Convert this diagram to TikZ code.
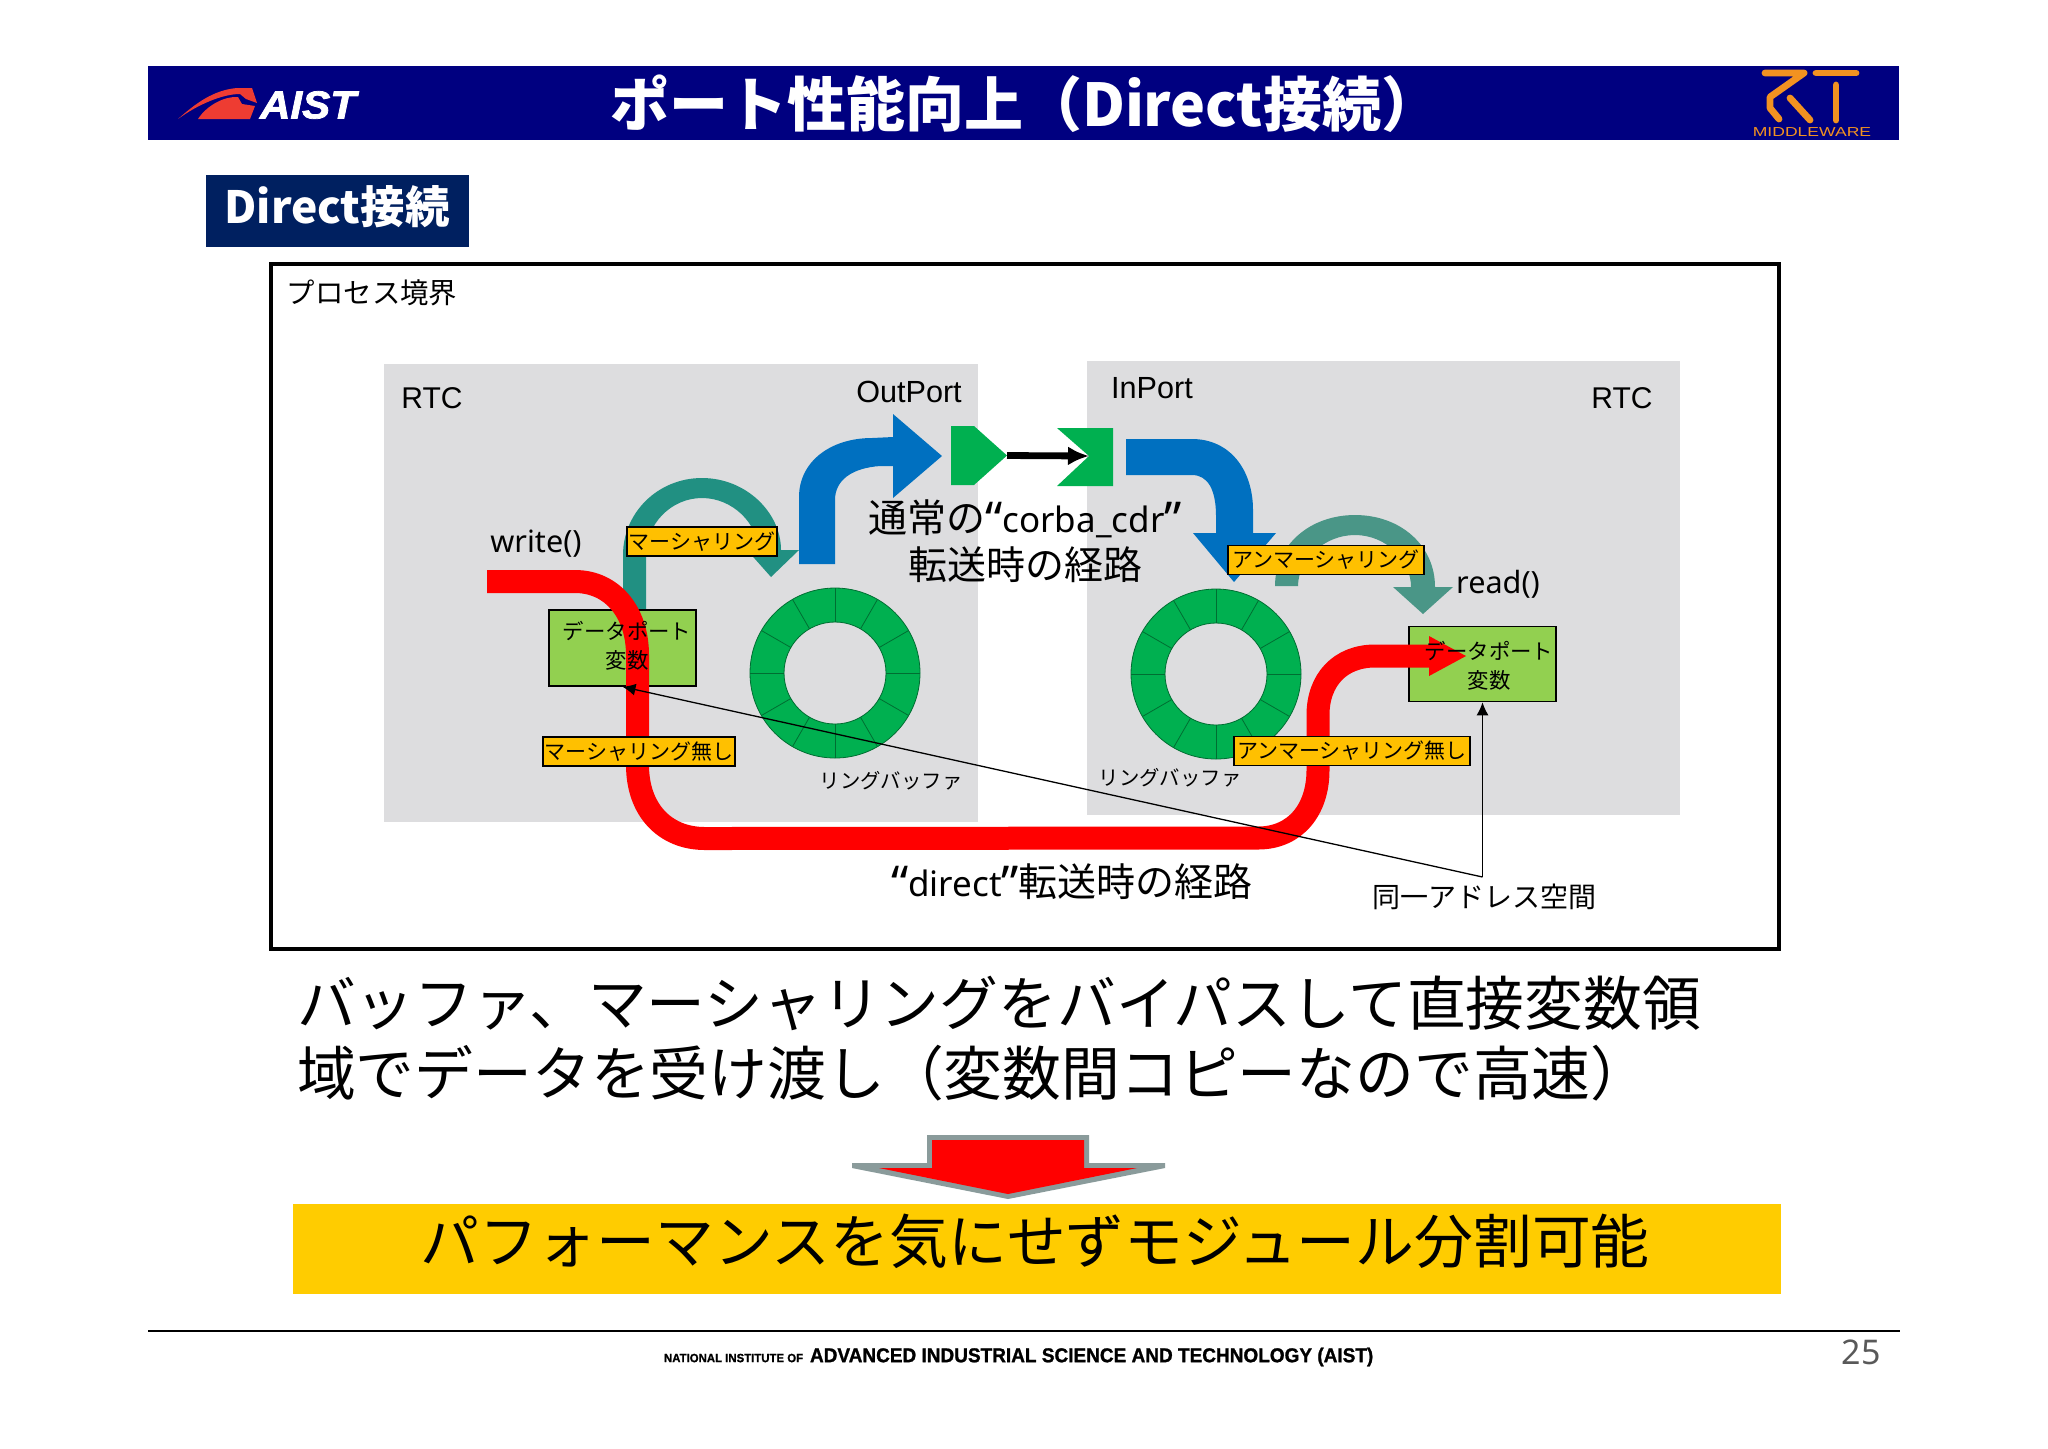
\documentclass[tikz,border=0pt]{standalone}
\usepackage{fontspec}
\usetikzlibrary{arrows.meta}
\setmainfont{Liberation Sans}
\newfontfamily\jp{Noto Sans CJK JP}
\newfontfamily\lat{Noto Sans}
\newfontfamily\footfont[FakeStretch=0.95,FakeBold=1.2]{Liberation Sans}
\newfontfamily\mwfont[FakeStretch=1.35]{Liberation Sans}
\newfontfamily\aistfont[FakeStretch=1.08,FakeBold=2]{Liberation Sans}
\newcommand\fs[1]{\fontsize{#1}{#1}\selectfont}
\newcommand\bigq[1]{\raisebox{-2pt}[0pt][0pt]{\lat\fs{24}#1}}
\definecolor{navybar}{RGB}{0,0,128}
\definecolor{subbar}{RGB}{0,32,96}
\definecolor{graybox}{RGB}{221,221,223}
\definecolor{pgreen}{RGB}{0,176,80}
\definecolor{lgreen}{RGB}{146,208,80}
\definecolor{orangelab}{RGB}{255,192,0}
\definecolor{bluearrow}{RGB}{0,112,192}
\definecolor{tealA}{RGB}{33,144,130}
\definecolor{tealB}{RGB}{74,150,135}
\definecolor{goldbar}{RGB}{255,204,0}
\definecolor{logoorange}{RGB}{242,146,33}
\definecolor{logored}{RGB}{238,60,50}
\definecolor{arrowgray}{RGB}{138,155,155}
\definecolor{ringedge}{RGB}{0,110,50}
\tikzset{
  txt/.style={inner sep=0pt,outer sep=0pt,anchor=center,text=black},
  lab/.style={draw=black,line width=0.75pt,fill=orangelab,inner sep=0pt,minimum height=14.5pt,anchor=center,font=\jp\fs{10.5}},
  varbox/.style={draw=black,line width=0.75pt,fill=lgreen,inner sep=0pt,anchor=center},
  vartext/.style={txt,align=center,font=\jp\fontsize{10.7}{14.7}\selectfont},
  thinarrow/.style={draw=black,line width=0.65pt,-{Latex[length=6.5pt,width=6pt]}},
  rtstroke/.style={draw=logoorange,line width=3.4pt,line cap=round,line join=round},
}
\begin{document}
\begin{tikzpicture}[x=0.5pt,y=-0.5pt]
\useasboundingbox (0,0) rectangle (2048,1448);
% header
\fill[navybar] (148,66) rectangle (1899,140);
\node[txt,text=white] (title) at (1025,104) {\jp\bfseries\fs{29.5}ポート性能向上（Direct接続）};
% AIST logo
\fill[logored] (178,119) .. controls (195,104) and (213,90) .. (237,88) -- (252,88) -- (257,103) -- (246,99) -- (240,94) .. controls (222,94) and (197,105) .. (178,119) -- cycle;
\fill[logored] (198,119) .. controls (207,105) and (225,96) .. (238,97) -- (242,104) -- (255,106) -- (250,119) -- cycle;
\node[txt,text=white] (aist) at (308,105) {\aistfont\bfseries\itshape\fs{19.5}AIST};
% RT logo
\draw[rtstroke] (1765,73) -- (1804,73) -- (1770,97) -- (1770,108) -- (1779,119);
\draw[rtstroke] (1790,98) -- (1810,120);
\draw[rtstroke] (1816,73) -- (1856,73);
\draw[rtstroke] (1836,85) -- (1836,120);
\node[txt,text=logoorange] (mw) at (1812,132) {\mwfont\fs{6.5}MIDDLEWARE};
% section label
\node[fill=subbar,minimum width=131.5pt,minimum height=36pt,inner sep=0pt,anchor=center,text=white] (sec) at (337.5,211) {};
\node[txt,text=white] (sect) at (337,207) {\jp\bfseries\fs{22.2}Direct接続};
% frame
\draw[black,line width=2pt] (271,264) rectangle (1779,949);
\node[txt] (proc) at (372,293) {\jp\fs{14.2}プロセス境界};
% gray RTC blocks
\fill[graybox] (384,364) rectangle (978,822);
\fill[graybox] (1087,361) rectangle (1680,815);
\node[txt] (rtcl) at (432,398) {\fs{15}RTC};
\node[txt] (outp) at (909,392) {\fs{15.3}OutPort};
\node[txt] (inp) at (1152,388) {\fs{15.3}InPort};
\node[txt] (rtcr) at (1622,398) {\fs{15}RTC};
% teal arrows
\fill[tealA] (623,612) -- (623,555) .. controls (623,512.5) and (658,478) .. (702,478) .. controls (746,478) and (781,512.5) .. (781,550) -- (799,550) -- (771,577) -- (747,550) -- (758,550) .. controls (758,524) and (733,498) .. (702,498) .. controls (671,498) and (646,524) .. (646,555) -- (646,612) -- cycle;
\fill[tealB] (1275,586) .. controls (1275,545) and (1310,515) .. (1355,515) .. controls (1400,515) and (1435,545) .. (1435,587) -- (1453,587) -- (1423,614) -- (1393,587) -- (1411,587) .. controls (1411,560) and (1386,535) .. (1355,535) .. controls (1324,535) and (1298,560) .. (1298,586) -- cycle;
% blue arrows
\fill[bluearrow] (799,564) -- (799,497) .. controls (799,462) and (830,438) .. (872,438) -- (893,437) -- (893,414) -- (942,456) -- (893,498) -- (893,466) -- (880,466) .. controls (852,468) and (835,480) .. (835,500) -- (835,564) -- cycle;
\fill[bluearrow] (1126,439) -- (1192,439) .. controls (1230,439) and (1253,470) .. (1253,510) -- (1253,533) -- (1276,533) -- (1234,582) -- (1193,533) -- (1216,533) -- (1216,516) .. controls (1216,490) and (1208,475) .. (1192,475) -- (1126,475) -- cycle;
% ports
\coordinate (optip) at (1007,455.5);
\coordinate (ipnotch) at (1089,456);
\fill[pgreen] (951,426) -- (974,426) -- (optip) -- (974,485) -- (951,485) -- cycle;
\fill[pgreen] (1057,428) -- (1113,428) -- (1113,486) -- (1057,486) -- (ipnotch) -- cycle;
\draw[black,line width=3.4pt,-{Latex[length=10.5pt,width=9.5pt]}] (optip) -- (ipnotch);
% ring buffers
\coordinate (ringL) at (835,673);
\coordinate (ringR) at (1216,674);
\foreach \c/\cx/\cy in {ringL/835/673,ringR/1216/674}{
  \fill[pgreen,draw=ringedge,line width=0.4pt,even odd rule] (\c) circle (42.5pt) (\c) circle (25.5pt);
  \foreach \a in {0,30,...,330}{
    \draw[ringedge,line width=0.4pt] ({\cx+51*cos(\a)},{\cy+51*sin(\a)}) -- ({\cx+85*cos(\a)},{\cy+85*sin(\a)});
  }
}
\node[txt] (ringtl) at (891,781) {\jp\fs{10.2}リングバッファ};
\node[txt] (ringtr) at (1170,778) {\jp\fs{10.2}リングバッファ};
% variable boxes
\node[varbox,minimum width=73.5pt,minimum height=38pt] (lbox) at (622.5,648) {};
\node[varbox,minimum width=73.5pt,minimum height=37.5pt] (rbox) at (1482.5,664) {};
% red path
\draw[red,line width=11.5pt,line join=round] (487,581.5) -- (575,581.5) .. controls (612,581.5) and (637.5,612) .. (637.5,655) -- (637.5,765) .. controls (637.5,810) and (665,838.5) .. (705,838.5) -- (1258,838) .. controls (1295,838) and (1318,810) .. (1318,770) -- (1318,715) .. controls (1318,680) and (1340,656) .. (1375,656) -- (1430,656);
\fill[red] (1429,636) -- (1466,656) -- (1429,676) -- cycle;
% box texts
\node[vartext] (ltext) at (627,646) {データポート\\変数};
\node[vartext] (rtext) at (1489,666) {データポート\\変数};
% labels
\node[lab,minimum width=75pt] (m1) at (702,541.5) {マーシャリング};
\node[lab,minimum width=96pt] (m2) at (639,751.5) {マーシャリング無し};
\node[lab,minimum width=98pt] (m3) at (1326,560) {アンマーシャリング};
\node[lab,minimum width=118pt] (m4) at (1352,751) {アンマーシャリング無し};
\node[txt] (write) at (536,544) {\lat\fs{15.3}write()};
\node[txt] (read) at (1498,584) {\lat\fs{15.3}read()};
% centre texts
\node[txt,anchor=base] (n1) at (1025,532) {\jp\fs{19.5}通常の\bigq{“}{\lat\fs{17.5}corba\_cdr}\bigq{”}};
\node[txt] (n2) at (1025,565) {\jp\fs{19.5}転送時の経路};
\node[txt,anchor=base] (d1) at (1072,896) {\jp\fs{19.5}\bigq{“}{\lat\fs{17.5}direct}\bigq{”}転送時の経路};
\node[txt] (addr) at (1484,897) {\jp\fs{14}同一アドレス空間};
% thin arrows
\coordinate (apex) at (1482.5,877);
\draw[thinarrow] (apex) -- (lbox.south);
\draw[thinarrow] (apex) -- (rbox.south);
% paragraph
\node[txt,anchor=west] (p1) at (297,1003) {\jp\fs{29.4}バッファ、マーシャリングをバイパスして直接変数領};
\node[txt,anchor=west] (p2) at (297,1073) {\jp\fs{29.4}域でデータを受け渡し（変数間コピーなので高速）};
% big arrow
\fill[arrowgray] (927,1135) -- (1089,1135) -- (1089,1163) -- (1165,1163) -- (1165,1168) -- (1008,1199) -- (852,1168) -- (852,1163) -- (927,1163) -- cycle;
\fill[red] (932,1140) -- (1084,1140) -- (1084,1168) -- (1137,1168) -- (1008,1194) -- (879,1168) -- (932,1168) -- cycle;
% yellow bar
\node[fill=goldbar,minimum width=744pt,minimum height=45pt,inner sep=0pt,anchor=center] (bar) at (1037,1249) {};
\node[txt] (bart) at (1035,1241) {\jp\fs{29.4}パフォーマンスを気にせずモジュール分割可能};
% footer
\draw[black,line width=1pt] (148,1331) -- (1900,1331);
\node[txt,anchor=west] (f1) at (664,1358) {\footfont\bfseries\fs{6}NATIONAL INSTITUTE OF};
\node[txt,anchor=west] (f2) at (810,1357) {\footfont\bfseries\fs{10}ADVANCED INDUSTRIAL SCIENCE AND TECHNOLOGY (AIST)};
\node[txt,text=black!65] (pg) at (1861,1352) {\lat\fs{17}25};
\end{tikzpicture}
\end{document}
